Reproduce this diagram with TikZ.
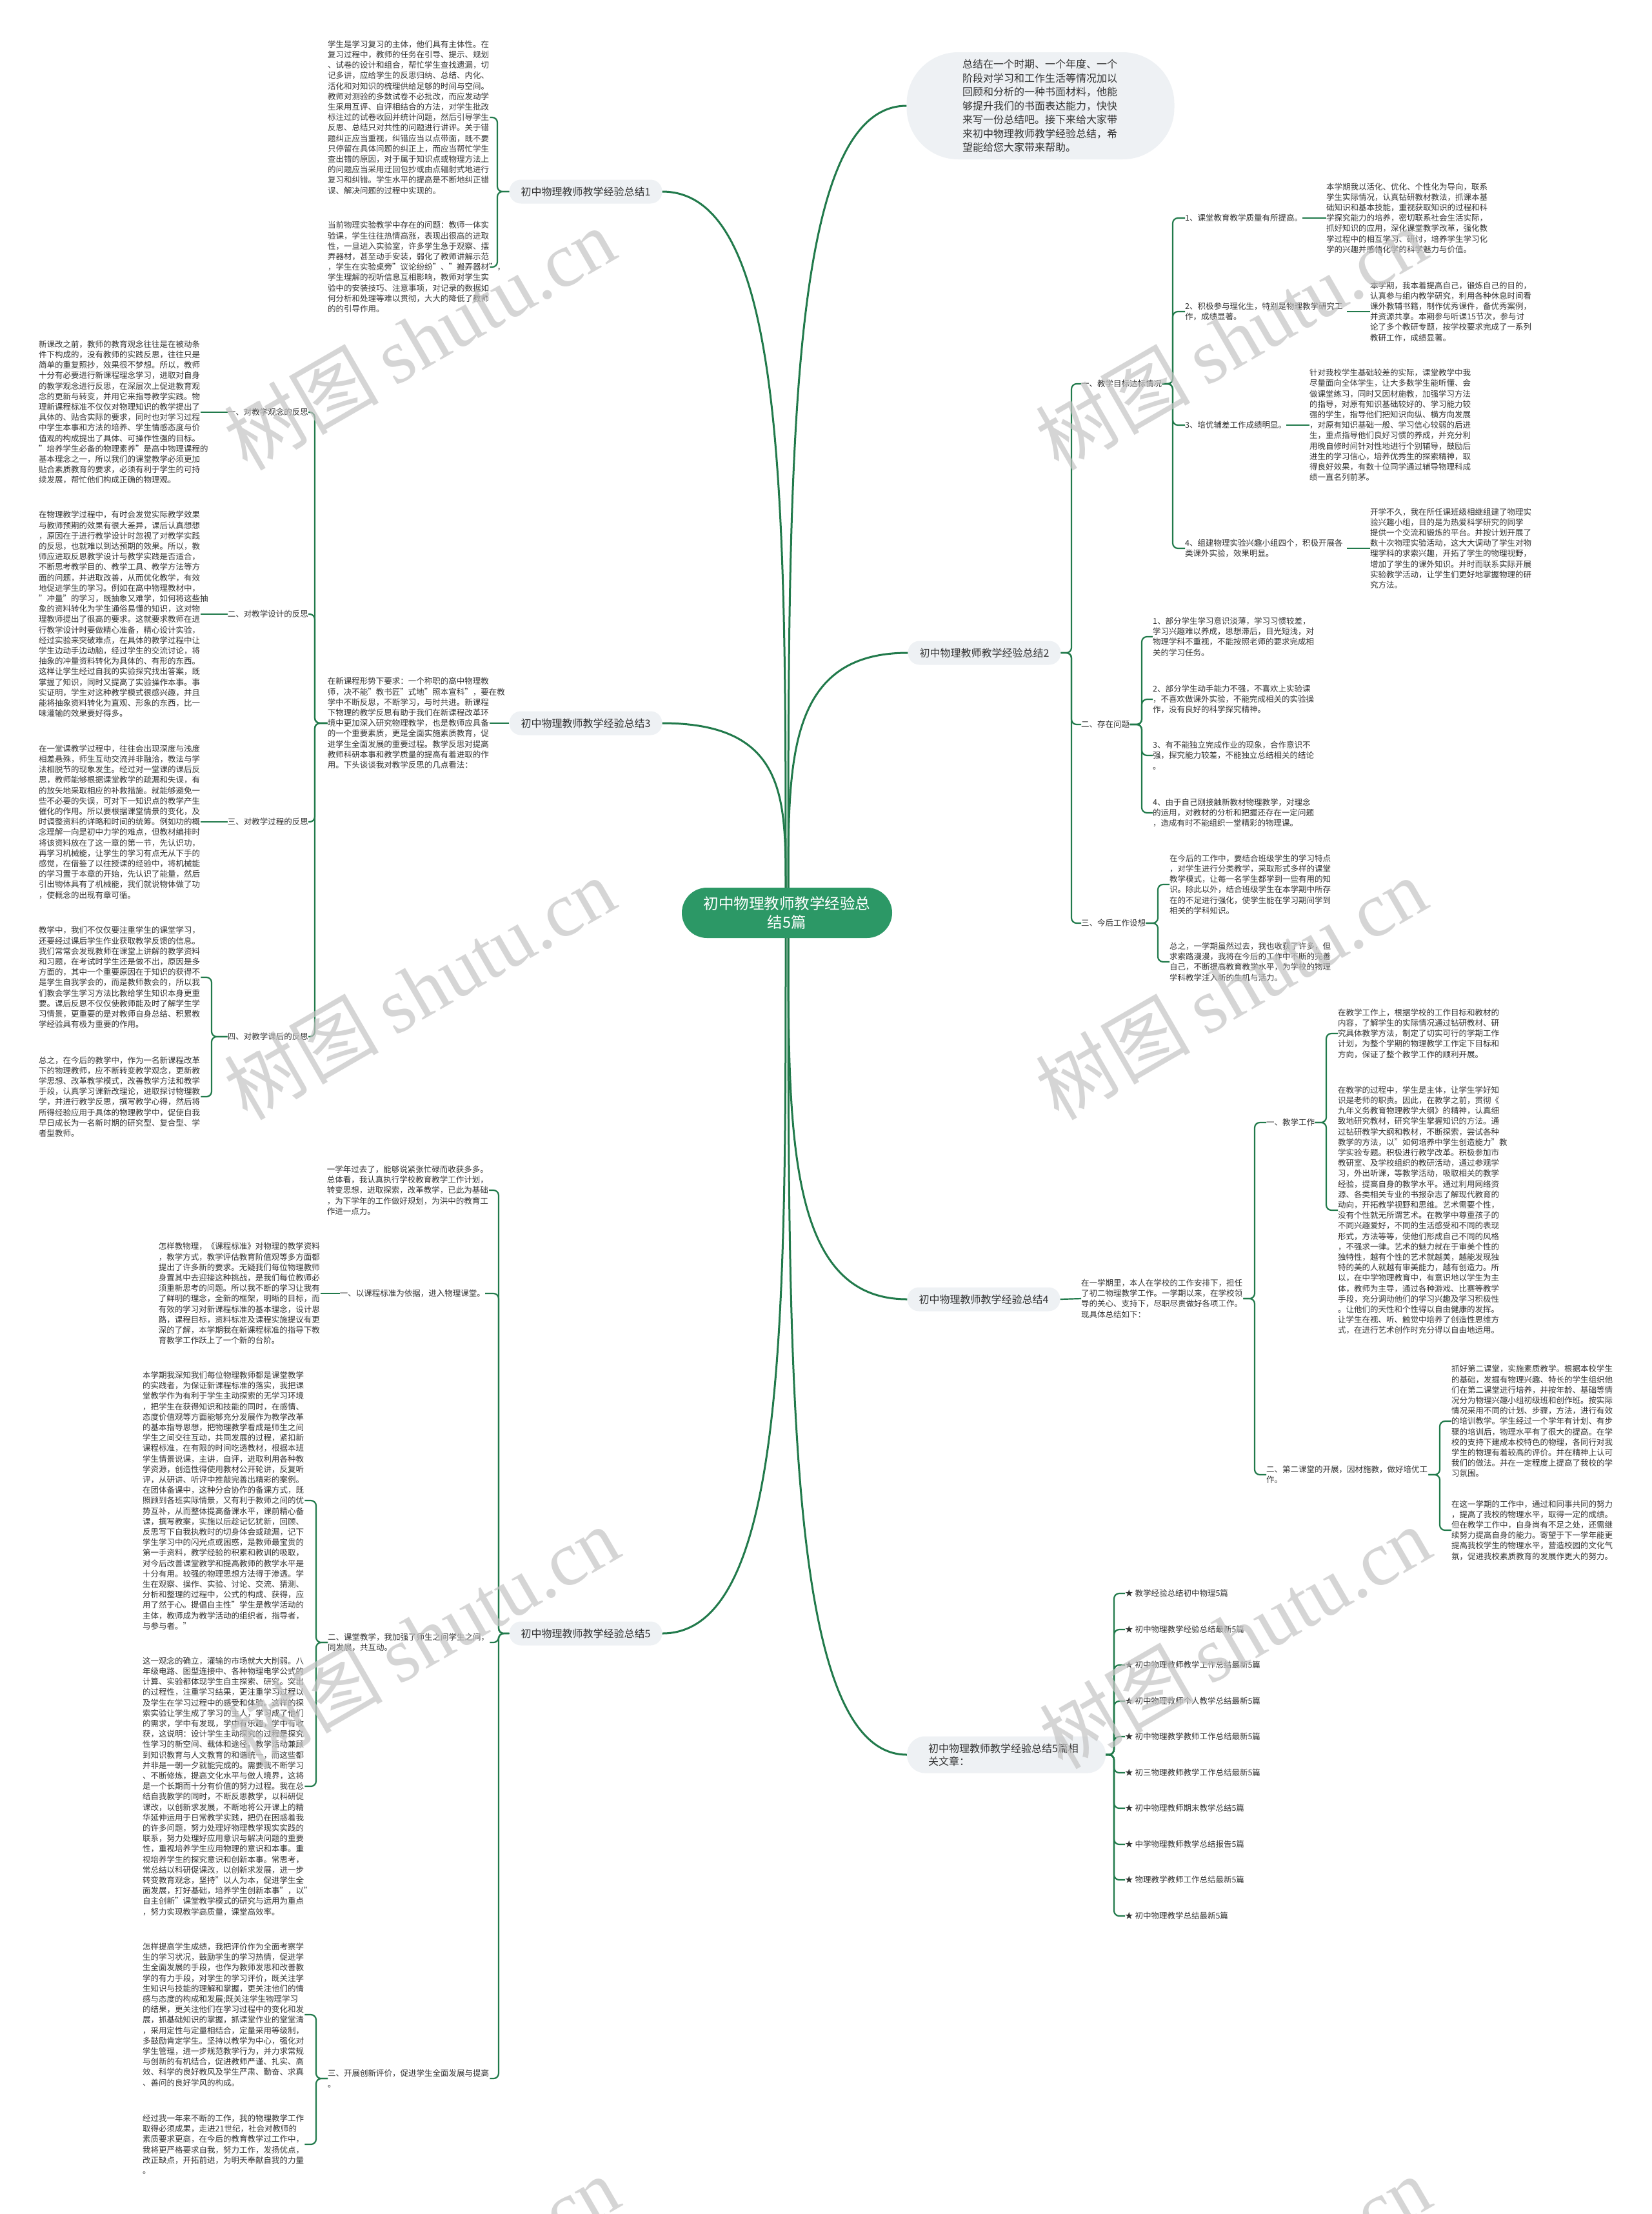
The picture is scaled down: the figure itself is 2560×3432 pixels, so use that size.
\documentclass[tikz,border=0pt]{standalone}
\usepackage{fontspec}
\setmainfont{Noto Sans CJK SC}
\newfontfamily\wmlat{Liberation Serif}
\usetikzlibrary{calc}
\definecolor{lg}{HTML}{217A4B}
\definecolor{cg}{HTML}{2C9866}
\definecolor{lf}{HTML}{EEF1F4}
\definecolor{tc}{HTML}{333333}
\definecolor{wmc}{HTML}{C4C4C4}
\newcommand\bodyfont{\fontsize{12.5pt}{16.2pt}\selectfont}
\newcommand\mybrL[3]{\draw[br] (#1.west) -| (#2.east -| #3) -- (#2.east);}
\newcommand\mybrR[3]{\draw[br] (#1.east) -| (#2.west -| #3) -- (#2.west);}
\newcommand\wmtext{树图\hspace{25pt}{\wmlat shutu.cn}}
\begin{document}
\begin{tikzpicture}[x=1pt,y=-1pt,
  br/.style={draw=lg,line width=2.2pt,rounded corners=8pt},
  mainc/.style={draw=lg,line width=3pt},
  body/.style={font=\bodyfont,text=tc,inner sep=0pt,align=left,anchor=west},
  tw/.style={text width=251pt},
  lvone/.style={fill=lf,rounded corners=18pt,minimum height=37pt,inner xsep=18pt,inner ysep=0pt,font=\fontsize{16pt}{20pt}\selectfont,text=tc},
  cnode/.style={fill=cg,rounded corners=39pt,minimum width=326pt,minimum height=78pt,text=white,align=center,font=\fontsize{23.5pt}{29pt}\selectfont},
  wm/.style={text=wmc,opacity=0.7,rotate=30,inner sep=0pt,font=\fontsize{120pt}{120pt}\selectfont}
]
\fill[white] (0,0) rectangle (2560,3432);
\useasboundingbox (0,0) rectangle (2560,3432);

% trunk coordinates
\coordinate (T1) at (771,0);
\coordinate (T2) at (1661,0);
\coordinate (T21) at (1818,0);
\coordinate (T22) at (1770,0);
\coordinate (T23) at (1795,0);
\coordinate (T3) at (488,0);
\coordinate (T34) at (328,0);
\coordinate (T4) at (1945,0);
\coordinate (T41) at (2056,0);
\coordinate (T42) at (2232,0);
\coordinate (T5) at (773,0);
\coordinate (T52) at (490,0);
\coordinate (TR) at (1727,0);

% center
\node[cnode] (c) at (1220,1415) {初中物理教师教学经验总\\结5篇};

% intro
\node[fill=lf,rounded corners=80pt,minimum width=415pt,minimum height=166pt,text width=242pt,align=left,font=\fontsize{16pt}{21.5pt}\selectfont,text=tc] (intro) at (1613,164) {总结在一个时期、一个年度、一个\\
阶段对学习和工作生活等情况加以\\
回顾和分析的一种书面材料，他能\\
够提升我们的书面表达能力，快快\\
来写一份总结吧。接下来给大家带\\
来初中物理教师教学经验总结，希\\
望能给您大家带来帮助。};

% ===== Branch 1 =====
\node[lvone] (b1) at (908,297) {初中物理教师教学经验总结1};
\node[body,tw] (b1a) at (508,182) {学生是学习复习的主体，他们具有主体性。在\\
复习过程中，教师的任务在引导、提示、规划\\
、试卷的设计和组合，帮忙学生查找遗漏，切\\
记多讲，应给学生的反思归纳、总结、内化、\\
活化和对知识的梳理供给足够的时间与空间。\\
教师对测验的多数试卷不必批改，而应发动学\\
生采用互评、自评相结合的方法，对学生批改\\
标注过的试卷收回并统计问题，然后引导学生\\
反思、总结只对共性的问题进行讲评。关于错\\
题纠正应当重视，纠错应当以点带面，既不要\\
只停留在具体问题的纠正上，而应当帮忙学生\\
查出错的原因，对于属于知识点或物理方法上\\
的问题应当采用迂回包抄或由点辐射式地进行\\
复习和纠错。学生水平的提高是不断地纠正错\\
误、解决问题的过程中实现的。};
\node[body,tw] (b1b) at (508,414) {当前物理实验教学中存在的问题：教师一体实\\
验课，学生往往热情高涨，表现出很高的进取\\
性，一旦进入实验室，许多学生急于观察、摆\\
弄器材，甚至动手安装，弱化了教师讲解示范\\
，学生在实验桌旁"议论纷纷"、"搬弄器材"，\\
学生理解的视听信息互相影响，教师对学生实\\
验中的安装技巧、注意事项，对记录的数据如\\
何分析和处理等难以贯彻，大大的降低了教师\\
的的引导作用。};

% ===== Branch 2 =====
\node[lvone] (b2) at (1526,1012) {初中物理教师教学经验总结2};
\node[body] (b2l1) at (1676,595) {一、教学目标达标情况};
\node[body] (b2l2) at (1676,1123) {二、存在问题};
\node[body] (b2l3) at (1676,1431) {三、今后工作设想};

\node[body] (i1) at (1837,338) {1、课堂教育教学质量有所提高。};
\node[body,tw] (i2) at (1837,483) {2、积极参与理化生，特别是物理教学研究工\\作，成绩显著。};
\node[body] (i3) at (1837,659) {3、培优辅差工作成绩明显。};
\node[body,tw] (i4) at (1837,850) {4、组建物理实验兴趣小组四个，积极开展各\\类课外实验，效果明显。};

\node[body,tw] (i1t) at (2056,338) {本学期我以活化、优化、个性化为导向，联系\\
学生实际情况，认真钻研教材教法，抓课本基\\
础知识和基本技能，重视获取知识的过程和科\\
学探究能力的培养，密切联系社会生活实际，\\
抓好知识的应用，深化课堂教学改革，强化教\\
学过程中的相互学习、研讨，培养学生学习化\\
学的兴趣并感悟化学的科学魅力与价值。};
\node[body,tw] (i2t) at (2124,483) {本学期，我本着提高自己，锻炼自己的目的，\\
认真参与组内教学研究，利用各种休息时间看\\
课外教辅书籍，制作优秀课件，备优秀案例，\\
并资源共享。本期参与听课15节次，参与讨\\
论了多个教研专题，按学校要求完成了一系列\\
教研工作，成绩显著。};
\node[body,tw] (i3t) at (2030,659) {针对我校学生基础较差的实际，课堂教学中我\\
尽量面向全体学生，让大多数学生能听懂、会\\
做课堂练习，同时又因材施教，加强学习方法\\
的指导，对原有知识基础较好的、学习能力较\\
强的学生，指导他们把知识向纵、横方向发展\\
，对原有知识基础一般、学习信心较弱的后进\\
生，重点指导他们良好习惯的养成，并充分利\\
用晚自修时间针对性地进行个别辅导，鼓励后\\
进生的学习信心，培养优秀生的探索精神，取\\
得良好效果，有数十位同学通过辅导物理科成\\
绩一直名列前茅。};
\node[body,tw] (i4t) at (2124,850) {开学不久，我在所任课班级相继组建了物理实\\
验兴趣小组，目的是为热爱科学研究的同学\\
提供一个交流和锻炼的平台。并按计划开展了\\
数十次物理实验活动，这大大调动了学生对物\\
理学科的求索兴趣，开拓了学生的物理视野，\\
增加了学生的课外知识。并时而联系实际开展\\
实验教学活动，让学生们更好地掌握物理的研\\
究方法。};

\node[body,tw] (p1) at (1787,987) {1、部分学生学习意识淡薄，学习习惯较差，\\
学习兴趣难以养成，思想滞后，目光短浅，对\\
物理学科不重视，不能按照老师的要求完成相\\
关的学习任务。};
\node[body,tw] (p2) at (1787,1084) {2、部分学生动手能力不强，不喜欢上实验课\\
，不喜欢做课外实验，不能完成相关的实验操\\
作，没有良好的科学探究精神。};
\node[body,tw] (p3) at (1787,1171) {3、有不能独立完成作业的现象，合作意识不\\
强，探究能力较差，不能独立总结相关的结论\\
。};
\node[body,tw] (p4) at (1787,1260) {4、由于自己刚接触新教材物理教学，对理念\\
的运用，对教材的分析和把握还存在一定问题\\
，造成有时不能组织一堂精彩的物理课。};

\node[body,tw] (f1) at (1813,1371) {在今后的工作中，要结合班级学生的学习特点\\
，对学生进行分类教学，采取形式多样的课堂\\
教学模式，让每一名学生都学到一些有用的知\\
识。除此以外，结合班级学生在本学期中所存\\
在的不足进行强化，使学生能在学习期间学到\\
相关的学科知识。};
\node[body,tw] (f2) at (1813,1491) {总之，一学期虽然过去，我也收获了许多，但\\
求索路漫漫，我将在今后的工作中不断的完善\\
自己，不断提高教育教学水平，为学校的物理\\
学科教学注入新的生机与活力。};

% ===== Branch 3 =====
\node[lvone] (b3) at (908,1121) {初中物理教师教学经验总结3};
\node[body,tw,anchor=east] (b3t) at (759,1121) {在新课程形势下要求：一个称职的高中物理教\\
师，决不能"教书匠"式地"照本宣科"，要在教\\
学中不断反思，不断学习，与时共进。新课程\\
下物理的教学反思有助于我们在新课程改革环\\
境中更加深入研究物理教学，也是教师应具备\\
的一个重要素质，更是全面实施素质教育，促\\
进学生全面发展的重要过程。教学反思对提高\\
教师科研本事和教学质量的提高有着进取的作\\
用。下头谈谈我对教学反思的几点看法：};
\node[body,anchor=east] (b3l1) at (478,639) {一、对教学观念的反思};
\node[body,anchor=east] (b3l2) at (478,952) {二、对教学设计的反思};
\node[body,anchor=east] (b3l3) at (478,1274) {三、对教学过程的反思};
\node[body,anchor=east] (b3l4) at (478,1607) {四、对教学课后的反思};

\node[body,tw] (b3a) at (60,639) {新课改之前，教师的教育观念往往是在被动条\\
件下构成的，没有教师的实践反思，往往只是\\
简单的重复照抄，效果很不梦想。所以，教师\\
十分有必要进行新课程理念学习，进取对自身\\
的教学观念进行反思，在深层次上促进教育观\\
念的更新与转变，并用它来指导教学实践。物\\
理新课程标准不仅仅对物理知识的教学提出了\\
具体的、贴合实际的要求，同时也对学习过程\\
中学生本事和方法的培养、学生情感态度与价\\
值观的构成提出了具体、可操作性强的目标。\\
"培养学生必备的物理素养"是高中物理课程的\\
基本理念之一，所以我们的课堂教学必须更加\\
贴合素质教育的要求，必须有利于学生的可持\\
续发展，帮忙他们构成正确的物理观。};
\node[body,tw] (b3b) at (60,952) {在物理教学过程中，有时会发觉实际教学效果\\
与教师预期的效果有很大差异，课后认真想想\\
，原因在于进行教学设计时忽视了对教学实践\\
的反思，也就难以到达预期的效果。所以，教\\
师应进取反思教学设计与教学实践是否适合，\\
不断思考教学目的、教学工具、教学方法等方\\
面的问题，并进取改善，从而优化教学，有效\\
地促进学生的学习。例如在高中物理教材中，\\
"冲量"的学习，既抽象又难学，如何将这些抽\\
象的资料转化为学生通俗易懂的知识，这对物\\
理教师提出了很高的要求。这就要求教师在进\\
行教学设计时要做精心准备，精心设计实验，\\
经过实验来突破难点，在具体的教学过程中让\\
学生边动手边动脑，经过学生的交流讨论，将\\
抽象的冲量资料转化为具体的、有形的东西。\\
这样让学生经过自我的实验探究找出答案，既\\
掌握了知识，同时又提高了实验操作本事。事\\
实证明，学生对这种教学模式很感兴趣，并且\\
能将抽象资料转化为直观、形象的东西，比一\\
味灌输的效果要好得多。};
\node[body,tw] (b3c) at (60,1274) {在一堂课教学过程中，往往会出现深度与浅度\\
相差悬殊，师生互动交流并非融洽，教法与学\\
法相脱节的现象发生。经过对一堂课的课后反\\
思，教师能够根据课堂教学的疏漏和失误，有\\
的放矢地采取相应的补救措施。就能够避免一\\
些不必要的失误，可对下一知识点的教学产生\\
催化的作用。所以要根据课堂情景的变化，及\\
时调整资料的详略和时间的统筹。例如功的概\\
念理解一向是初中力学的难点，但教材编排时\\
将该资料放在了这一章的第一节，先认识功，\\
再学习机械能，让学生的学习有点无从下手的\\
感觉，在借鉴了以往授课的经验中，将机械能\\
的学习置于本章的开始，先认识了能量，然后\\
引出物体具有了机械能，我们就说物体做了功\\
，使概念的出现有章可循。};
\node[body,tw] (b3d) at (60,1515) {教学中，我们不仅仅要注重学生的课堂学习，\\
还要经过课后学生作业获取教学反馈的信息。\\
我们常常会发现教师在课堂上讲解的教学资料\\
和习题，在考试时学生还是做不出，原因是多\\
方面的，其中一个重要原因在于知识的获得不\\
是学生自我学会的，而是教师教会的，所以我\\
们教会学生学习方法比教给学生知识本身更重\\
要。课后反思不仅仅使教师能及时了解学生学\\
习情景，更重要的是对教师自身总结、积累教\\
学经验具有极为重要的作用。};
\node[body,tw] (b3e) at (60,1700) {总之，在今后的教学中，作为一名新课程改革\\
下的物理教师，应不断转变教学观念，更新教\\
学思想、改革教学模式，改善教学方法和教学\\
手段，认真学习课新改理论，进取探讨物理教\\
学，并进行教学反思，撰写教学心得，然后将\\
所得经验应用于具体的物理教学中，促使自我\\
早日成长为一名新时期的研究型、复合型、学\\
者型教师。};

% ===== Branch 4 =====
\node[lvone] (b4) at (1525,2014) {初中物理教师教学经验总结4};
\node[body,tw] (b4t) at (1676,2013) {在一学期里，本人在学校的工作安排下，担任\\
了初二物理教学工作。一学期以来，在学校领\\
导的关心、支持下，尽职尽责做好各项工作。\\
现具体总结如下：};
\node[body] (b4l1) at (1963,1740) {一、教学工作};
\node[body,tw] (b4l2) at (1963,2286) {二、第二课堂的开展，因材施教，做好培优工\\作。};
\node[body,tw] (b4a) at (2074,1602) {在教学工作上，根据学校的工作目标和教材的\\
内容，了解学生的实际情况通过钻研教材、研\\
究具体教学方法，制定了切实可行的学期工作\\
计划，为整个学期的物理教学工作定下目标和\\
方向，保证了整个教学工作的顺利开展。};
\node[body,tw] (b4b) at (2074,1876) {在教学的过程中，学生是主体，让学生学好知\\
识是老师的职责。因此，在教学之前，贯彻《\\
九年义务教育物理教学大纲》的精神，认真细\\
致地研究教材，研究学生掌握知识的方法。通\\
过钻研教学大纲和教材，不断探索，尝试各种\\
教学的方法，以"如何培养中学生创造能力"教\\
学实验专题。积极进行教学改革。积极参加市\\
教研室、及学校组织的教研活动，通过参观学\\
习，外出听课，等教学活动，吸取相关的教学\\
经验，提高自身的教学水平。通过利用网络资\\
源、各类相关专业的书报杂志了解现代教育的\\
动向，开拓教学视野和思维。艺术需要个性，\\
没有个性就无所谓艺术。在教学中尊重孩子的\\
不同兴趣爱好，不同的生活感受和不同的表现\\
形式，方法等等，使他们形成自己不同的风格\\
，不强求一律。艺术的魅力就在于审美个性的\\
独特性，越有个性的艺术就越美，越能发现独\\
特的美的人就越有审美能力，越有创造力。所\\
以，在中学物理教育中，有意识地以学生为主\\
体，教师为主导，通过各种游戏、比赛等教学\\
手段，充分调动他们的学习兴趣及学习积极性\\
。让他们的天性和个性得以自由健康的发挥。\\
让学生在视、听、触觉中培养了创造性思维方\\
式，在进行艺术创作时充分得以自由地运用。};
\node[body,tw] (b4c) at (2250,2203) {抓好第二课堂，实施素质教学。根据本校学生\\
的基础，发掘有物理兴趣、特长的学生组织他\\
们在第二课堂进行培养，并按年龄、基础等情\\
况分为物理兴趣小组初级班和创作班。按实际\\
情况采用不同的计划、步骤，方法，进行有效\\
的培训教学。学生经过一个学年有计划、有步\\
骤的培训后，物理水平有了很大的提高。在学\\
校的支持下建成本校特色的物理，各同行对我\\
学生的物理有着较高的评价。并在精神上认可\\
我们的做法。并在一定程度上提高了我校的学\\
习氛围。};
\node[body,tw] (b4d) at (2250,2372) {在这一学期的工作中，通过和同事共同的努力\\
，提高了我校的物理水平，取得一定的成绩。\\
但在教学工作中，自身尚有不足之处，还需继\\
续努力提高自身的能力。寄望于下一学年能更\\
提高我校学生的物理水平，营造校园的文化气\\
氛，促进我校素质教育的发展作更大的努力。};

% ===== Branch 5 =====
\node[lvone] (b5) at (908,2532) {初中物理教师教学经验总结5};
\node[body,tw,anchor=east] (b5a) at (758,1845) {一学年过去了，能够说紧张忙碌而收获多多。\\
总体看，我认真执行学校教育教学工作计划，\\
转变思想，进取探索，改革教学，已此为基础\\
，为下学年的工作做好规划，为洪中的教育工\\
作进一点力。};
\node[body,anchor=east] (b5l1) at (752,2005) {一、以课程标准为依据，进入物理课堂。};
\node[body,tw,anchor=east] (b5l1t) at (497,2005) {怎样教物理，《课程标准》对物理的教学资料\\
，教学方式，教学评估教育阶值观等多方面都\\
提出了许多新的要求。无疑我们每位物理教师\\
身置其中去迎接这种挑战，是我们每位教师必\\
须重新思考的问题。所以我不断的学习让我有\\
了鲜明的理念，全新的框架，明晰的目标，而\\
有效的学习对新课程标准的基本理念，设计思\\
路，课程目标，资料标准及课程实施提议有更\\
深的了解，本学期我在新课程标准的指导下教\\
育教学工作跃上了一个新的台阶。};
\node[body,tw] (b5l2) at (508,2546) {二、课堂教学，我加强了师生之间学生之间，\\同发展，共互动。};
\node[body,tw] (b5l3) at (508,3222) {三、开展创新评价，促进学生全面发展与提高\\。};
\node[body,tw] (b5b) at (221,2326) {本学期我深知我们每位物理教师都是课堂教学\\
的实践者，为保证新课程标准的落实，我把课\\
堂教学作为有利于学生主动探索的无学习环境\\
，把学生在获得知识和技能的同时，在感情、\\
态度价值观等方面能够充分发展作为教学改革\\
的基本指导思想，把物理教学看成是师生之间\\
学生之间交往互动，共同发展的过程，紧扣新\\
课程标准，在有限的时间吃透教材，根据本班\\
学生情景说课，主讲，自评，进取利用各种教\\
学资源，创造性得使用教材公开轮讲，反复听\\
评，从研讲、听评中推敲完善出精彩的案例。\\
在团体备课中，这种分合协作的备课方式，既\\
照顾到各班实际情景，又有利于教师之间的优\\
势互补，从而整体提高备课水平，课前精心备\\
课，撰写教案，实施以后趁记忆犹新，回顾、\\
反思写下自我执教时的切身体会或疏漏，记下\\
学生学习中的闪光点或困惑，是教师最宝贵的\\
第一手资料，教学经验的积累和教训的吸取，\\
对今后改善课堂教学和提高教师的教学水平是\\
十分有用。较强的物理思想方法得于渗透。学\\
生在观察、操作、实验、讨论、交流、猜测、\\
分析和整理的过程中，公式的构成、获得，应\\
用了然于心。提倡自主性"学生是教学活动的\\
主体，教师成为教学活动的组织者，指导者，\\
与参与者。"};
\node[body,tw] (b5c) at (221,2769) {这一观念的确立，灌输的市场就大大削弱。八\\
年级电路、图型连接中、各种物理电学公式的\\
计算、实验都体现学生自主探索、研究。突出\\
的过程性，注重学习结果，更注重学习过程以\\
及学生在学习过程中的感受和体验。这样的探\\
索实验让学生成了学习的主人，学习成了他们\\
的需求，学中有发现，学中有乐趣，学中有收\\
获，这说明：设计学生主动探究的过程是探究\\
性学习的新空间、载体和途径。教学活动兼顾\\
到知识教育与人文教育的和谐统一，而这些都\\
并非是一朝一夕就能完成的。需要我不断学习\\
、不断修炼，提高文化水平与做人境界，这将\\
是一个长期而十分有价值的努力过程。我在总\\
结自我教学的同时，不断反思教学，以科研促\\
课改，以创新求发展，不断地将公开课上的精\\
华延伸运用于日常教学实践，把仍在困惑着我\\
的许多问题，努力处理好物理教学现实实践的\\
联系，努力处理好应用意识与解决问题的重要\\
性，重视培养学生应用物理的意识和本事。重\\
视培养学生的探究意识和创新本事。常思考，\\
常总结以科研促课改，以创新求发展，进一步\\
转变教育观念，坚持"以人为本，促进学生全\\
面发展，打好基础，培养学生创新本事"，以"\\
自主创新"课堂教学模式的研究与运用为重点\\
，努力实现教学高质量，课堂高效率。};
\node[body,tw] (b5d) at (221,3123) {怎样提高学生成绩，我把评价作为全面考察学\\
生的学习状况，鼓励学生的学习热情，促进学\\
生全面发展的手段，也作为教师发思和改善教\\
学的有力手段，对学生的学习评价，既关注学\\
生知识与技能的理解和掌握，更关注他们的情\\
感与态度的构成和发展;既关注学生物理学习\\
的结果，更关注他们在学习过程中的变化和发\\
展，抓基础知识的掌握，抓课堂作业的堂堂清\\
，采用定性与定量相结合，定量采用等级制，\\
多鼓励肯定学生。坚持以教学为中心，强化对\\
学生管理，进一步规范教学行为，并力求常规\\
与创新的有机结合，促进教师严谨、扎实、高\\
效、科学的良好教风及学生严肃、勤奋、求真\\
、善问的良好学风的构成。};
\node[body,tw] (b5e) at (221,3324) {经过我一年来不断的工作，我的物理教学工作\\
取得必须成果，走进21世纪，社会对教师的\\
素质要求更高，在今后的教育教学过工作中，\\
我将更严格要求自我，努力工作，发扬优点，\\
改正缺点，开拓前进，为明天奉献自我的力量\\
。};

% ===== Related =====
\node[fill=lf,rounded corners=28pt,minimum width=308pt,minimum height=57pt,text width=242pt,align=left,font=\fontsize{16pt}{20pt}\selectfont,text=tc] (rel) at (1560,2720) {初中物理教师教学经验总结5篇相\\关文章：};
\node[body] (r1) at (1744,2470) {★ 教学经验总结初中物理5篇};
\node[body] (r2) at (1744,2526) {★ 初中物理教学经验总结最新5篇};
\node[body] (r3) at (1744,2581) {★ 初中物理教师教学工作总结最新5篇};
\node[body] (r4) at (1744,2637) {★ 初中物理教师个人教学总结最新5篇};
\node[body] (r5) at (1744,2692) {★ 初中物理教学教师工作总结最新5篇};
\node[body] (r6) at (1744,2748) {★ 初三物理教师教学工作总结最新5篇};
\node[body] (r7) at (1744,2803) {★ 初中物理教师期末教学总结5篇};
\node[body] (r8) at (1744,2859) {★ 中学物理教师教学总结报告5篇};
\node[body] (r9) at (1744,2914) {★ 物理教学教师工作总结最新5篇};
\node[body] (r10) at (1744,2970) {★ 初中物理教学总结最新5篇};

% ===== main connectors =====
\draw[mainc] ($(c.north)+(-2,0)$) .. controls (1218,776) and (1218,297) .. (b1.east);
\draw[mainc] ($(c.north)+(2,0)$) .. controls (1222,709) and (1222,164) .. (intro.west);
\draw[mainc] ($(c.north)+(2,0)$) .. controls (1222,1176) and (1222,1012) .. (b2.west);
\draw[mainc] ($(c.north)+(-2,0)$) .. controls (1218,1236) and (1218,1121) .. (b3.east);
\draw[mainc] ($(c.south)+(2,0)$) .. controls (1222,1762) and (1222,2014) .. (b4.west);
\draw[mainc] ($(c.south)+(-2,0)$) .. controls (1218,2047) and (1218,2532) .. (b5.east);
\draw[mainc] ($(c.south)+(2,0)$) .. controls (1222,2150) and (1222,2720) .. (rel.west);

% ===== bracket connectors =====
\mybrL{b1}{b1a}{T1}
\mybrL{b1}{b1b}{T1}

\mybrR{b2}{b2l1}{T2}
\mybrR{b2}{b2l2}{T2}
\mybrR{b2}{b2l3}{T2}
\mybrR{b2l1}{i1}{T21}
\mybrR{b2l1}{i2}{T21}
\mybrR{b2l1}{i3}{T21}
\mybrR{b2l1}{i4}{T21}
\draw[br] (i1.east) -- (i1t.west);
\draw[br] (i2.east) -- (i2t.west);
\draw[br] (i3.east) -- (i3t.west);
\draw[br] (i4.east) -- (i4t.west);
\mybrR{b2l2}{p1}{T22}
\mybrR{b2l2}{p2}{T22}
\mybrR{b2l2}{p3}{T22}
\mybrR{b2l2}{p4}{T22}
\mybrR{b2l3}{f1}{T23}
\mybrR{b2l3}{f2}{T23}

\draw[br] (b3.west) -- (b3t.east);
\mybrL{b3t}{b3l1}{T3}
\mybrL{b3t}{b3l2}{T3}
\mybrL{b3t}{b3l3}{T3}
\mybrL{b3t}{b3l4}{T3}
\draw[br] (b3l1.west) -- (b3a.east);
\draw[br] (b3l2.west) -- (b3b.east);
\draw[br] (b3l3.west) -- (b3c.east);
\mybrL{b3l4}{b3d}{T34}
\mybrL{b3l4}{b3e}{T34}

\draw[br] (b4.east) -- (b4t.west);
\mybrR{b4t}{b4l1}{T4}
\mybrR{b4t}{b4l2}{T4}
\mybrR{b4l1}{b4a}{T41}
\mybrR{b4l1}{b4b}{T41}
\mybrR{b4l2}{b4c}{T42}
\mybrR{b4l2}{b4d}{T42}

\mybrL{b5}{b5a}{T5}
\mybrL{b5}{b5l1}{T5}
\mybrL{b5}{b5l2}{T5}
\mybrL{b5}{b5l3}{T5}
\draw[br] (b5l1.west) -- (b5l1t.east);
\mybrL{b5l2}{b5b}{T52}
\mybrL{b5l2}{b5c}{T52}
\mybrL{b5l3}{b5d}{T52}
\mybrL{b5l3}{b5e}{T52}

\mybrR{rel}{r1}{TR}
\mybrR{rel}{r2}{TR}
\mybrR{rel}{r3}{TR}
\mybrR{rel}{r4}{TR}
\mybrR{rel}{r5}{TR}
\mybrR{rel}{r6}{TR}
\mybrR{rel}{r7}{TR}
\mybrR{rel}{r8}{TR}
\mybrR{rel}{r9}{TR}
\mybrR{rel}{r10}{TR}

% ===== watermarks =====
\node[wm] (w1) at (650,525) {\wmtext};
\node[wm] (w2) at (1908,525) {\wmtext};
\node[wm] (w3) at (650,1532) {\wmtext};
\node[wm] (w4) at (1908,1532) {\wmtext};
\node[wm] (w5) at (656,2538) {\wmtext};
\node[wm] (w6) at (1914,2538) {\wmtext};
\node[wm] (w7) at (656,3545) {\wmtext};
\node[wm] (w8) at (1914,3545) {\wmtext};
\end{tikzpicture}
\end{document}
